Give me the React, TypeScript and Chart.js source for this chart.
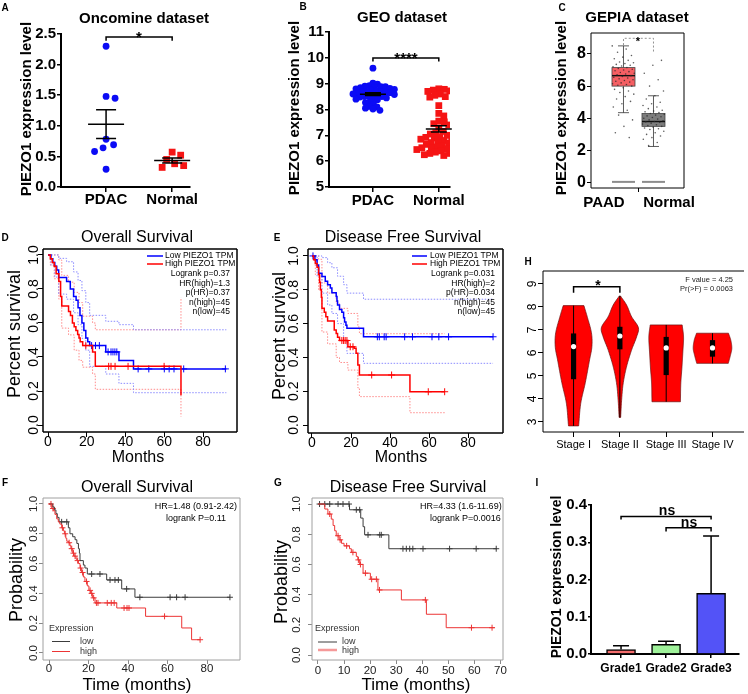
import React, { useEffect, useRef } from 'react';
import { Chart, registerables } from 'chart.js';

Chart.register(...registerables);

const FF = '"Liberation Sans", Arial, Helvetica, sans-serif';
Chart.defaults.font.family = FF;
Chart.defaults.color = '#000';

/* ===================== DATA ===================== */
// A – Oncomine
const A_CATS = ['PDAC', 'Normal'];
const A_PDAC = [2.3, 1.48, 1.45, 0.78, 0.69, 0.64, 0.58, 0.29];
const A_NORMAL = [0.57, 0.52, 0.45, 0.38, 0.35, 0.32];
const A_YTICKS = [0, 0.5, 1.0, 1.5, 2.0, 2.5];

// B – GEO
const B_CATS = ['PDAC', 'Normal'];
const B_PDAC = [9.6, 9.02, 8.98, 8.92, 8.9, 8.88, 8.88, 8.86, 8.85, 8.82, 8.8, 8.78, 8.75, 8.72, 8.7, 8.7, 8.68, 8.66, 8.65, 8.62,
  8.6, 8.6, 8.58, 8.55, 8.52, 8.5, 8.5, 8.48, 8.45, 8.42, 8.4, 8.38, 8.3, 8.27, 8.2, 8.12, 8.1, 8.05, 8.02, 7.97];
const B_NORMAL = [8.8, 8.78, 8.75, 8.72, 8.7, 8.65, 8.6, 8.55, 8.5, 8.48, 8.15, 7.85, 7.75, 7.55, 7.52, 7.45, 7.4, 7.28, 7.15, 7.1,
  7.05, 7.0, 6.95, 6.92, 6.9, 6.88, 6.85, 6.85, 6.8, 6.75, 6.72, 6.7, 6.65, 6.6, 6.6, 6.55, 6.52, 6.5, 6.48, 6.45, 6.45, 6.4,
  6.35, 6.3, 6.3, 6.25, 6.22];
const B_YTICKS = [5, 6, 7, 8, 9, 10, 11];

// C – GEPIA
const C_CATS = ['PAAD', 'Normal'];
const C_Q1 = [6.0, 3.5];
const C_MED = [6.65, 3.8];
const C_Q3 = [7.15, 4.3];
const C_WLO = [4.35, 2.25];
const C_WHI = [8.5, 5.4];
const C_FLOOR = [0.05, 0.05];
const C_PAAD_PTS = [8.5, 8.3, 8.1, 7.9, 7.8, 7.7, 7.6, 7.5, 7.45, 7.4, 7.35, 7.3, 7.25, 7.2, 7.15, 7.1, 7.05, 7.0, 6.95, 6.9,
  6.85, 6.8, 6.75, 6.7, 6.65, 6.6, 6.55, 6.5, 6.45, 6.4, 6.35, 6.3, 6.25, 6.2, 6.15, 6.1, 6.05, 6.0, 5.9, 5.8,
  5.7, 5.6, 5.5, 5.35, 5.2, 5.05, 4.9, 4.7, 4.5, 4.2, 3.9, 3.5, 3.1, 2.8];
const C_NORMAL_PTS = [7.6, 7.3, 6.8, 6.4, 6.0, 5.7, 5.4, 5.2, 5.0, 4.9, 4.8, 4.7, 4.6, 4.5, 4.45, 4.4, 4.35, 4.3, 4.25, 4.2,
  4.15, 4.1, 4.05, 4.0, 3.95, 3.9, 3.85, 3.8, 3.78, 3.75, 3.7, 3.65, 3.6, 3.55, 3.5, 3.45, 3.4, 3.35, 3.3, 3.2,
  3.1, 3.0, 2.9, 2.8, 2.7, 2.5, 2.3];
const C_YTICKS = [0, 2, 4, 6, 8];

// D – Overall survival (GEPIA)
const D_XTICKS = [0, 20, 40, 60, 80];
const SURV_YTICKS = [0, 0.2, 0.4, 0.6, 0.8, 1.0];
const D_LOW_T = [0, 1.5, 2.5, 3.5, 4.5, 5.5, 9.6, 11.5, 13.2, 14.5, 15.5, 16.5, 17.5, 18.5, 19.5, 20.5, 21.5, 29.8, 36.6, 44.1, 92];
const D_LOW_S = [1, 0.978, 0.956, 0.933, 0.911, 0.867, 0.844, 0.80, 0.756, 0.733, 0.689, 0.644, 0.60, 0.556, 0.511, 0.489, 0.467, 0.43, 0.38, 0.33, 0.33];
const D_LOW_CENS = [22.5, 24.5, 26.5, 31, 32.5, 33.5, 34.5, 35.5, 46.5, 52, 60, 62.5, 65, 70, 91.5];
const D_HIGH_T = [0, 1.2, 2.2, 3.2, 4.2, 5.6, 6.5, 7.1, 10.6, 11.6, 12.6, 13.5, 14.4, 15.3, 16.0, 16.6, 17.9, 23.0, 24.4, 68.6];
const D_HIGH_S = [1, 0.978, 0.956, 0.933, 0.889, 0.844, 0.756, 0.70, 0.667, 0.644, 0.60, 0.578, 0.556, 0.533, 0.511, 0.489, 0.467, 0.43, 0.345, 0.175];
const D_HIGH_CENS = [19.5, 31.3, 32.5, 34.6, 41.3, 59.9];
const D_LOW_CI_T = [0, 1.5, 3.5, 5.5, 9.6, 13.2, 15.5, 17.5, 19.5, 21.5, 29.8, 36.6, 44.1, 92];
const D_LOW_UP = [1, 1, 1, 0.98, 0.96, 0.90, 0.85, 0.79, 0.72, 0.645, 0.61, 0.59, 0.56, 0.56];
const D_LOW_LO = [1, 0.94, 0.87, 0.77, 0.74, 0.66, 0.59, 0.51, 0.44, 0.345, 0.30, 0.245, 0.19, 0.19];
const D_HIGH_CI_T = [0, 1.2, 3.2, 5.6, 7.1, 10.6, 13.5, 16.0, 17.9, 23.0, 24.4, 68.6];
const D_HIGH_UP = [1, 1, 1, 0.97, 0.88, 0.84, 0.78, 0.72, 0.64, 0.60, 0.56, 0.75];
const D_HIGH_LO = [1, 0.94, 0.86, 0.74, 0.57, 0.53, 0.44, 0.38, 0.34, 0.30, 0.21, 0.05];

// E – Disease free survival (GEPIA)
const E_LOW_T = [0, 1.5, 2.6, 3.4, 5.1, 6.8, 8.0, 9.4, 10.2, 12.4, 12.8, 13.1, 14.1, 15.3, 16.2, 16.7, 17.4, 17.9, 26.4, 92.8];
const E_LOW_S = [1, 0.978, 0.947, 0.897, 0.878, 0.85, 0.83, 0.81, 0.783, 0.76, 0.733, 0.71, 0.684, 0.667, 0.635, 0.61, 0.59, 0.572, 0.522, 0.522];
const E_LOW_CENS = [0.5, 33.5, 34.5, 37, 38, 47.5, 51.5, 61.5, 65, 70, 92.8];
const E_HIGH_T = [0, 0.85, 1.7, 2.6, 3.4, 3.9, 4.3, 4.8, 5.1, 6.3, 7.1, 8.0, 11.4, 12.4, 13.1, 14.1, 18.4, 21.6, 22.6, 23.5, 24.3, 50.2, 68];
const E_HIGH_S = [1, 0.978, 0.956, 0.933, 0.889, 0.844, 0.80, 0.756, 0.69, 0.667, 0.64, 0.615, 0.562, 0.542, 0.519, 0.50, 0.463, 0.454, 0.424, 0.355, 0.296, 0.197, 0.197];
const E_HIGH_CENS = [15.3, 16.2, 17.0, 17.9, 19.6, 21.0, 30.6, 40.8, 59.6, 68];
const E_LOW_CI_T = [0, 2.6, 5.1, 8.0, 10.2, 13.1, 16.2, 17.9, 26.4, 92.8];
const E_LOW_UP = [1, 1, 0.99, 0.96, 0.93, 0.88, 0.83, 0.78, 0.744, 0.744];
const E_LOW_LO = [1, 0.88, 0.78, 0.71, 0.66, 0.60, 0.50, 0.424, 0.365, 0.365];
const E_HIGH_CI_T = [0, 1.7, 3.4, 5.1, 8.0, 12.4, 14.1, 18.4, 23.5, 24.3, 50.2, 68];
const E_HIGH_UP = [1, 1, 0.98, 0.84, 0.78, 0.72, 0.69, 0.66, 0.58, 0.54, 0.54, 0.54];
const E_HIGH_LO = [1, 0.89, 0.80, 0.55, 0.48, 0.40, 0.37, 0.325, 0.22, 0.168, 0.073, 0.073];

// F – Overall survival (KM plotter)
const F_XTICKS = [0, 20, 40, 60, 80];
const F_LOW_T = [0, 1.9, 2.7, 3.5, 4.2, 5.1, 9.8, 10.6, 12.0, 13.2, 14.1, 14.9, 15.4, 15.7, 17.4, 18.2, 19.4, 29.2, 36.8, 43.5, 91.6];
const F_LOW_S = [1, 0.98, 0.96, 0.935, 0.91, 0.88, 0.84, 0.80, 0.78, 0.76, 0.735, 0.70, 0.67, 0.62, 0.59, 0.57, 0.53, 0.49, 0.43, 0.374, 0.374];
const F_LOW_CENS = [6.4, 9.0, 21.6, 25.8, 30.9, 33.4, 35.1, 39.3, 46.0, 61.3, 64.6, 68.9, 91.6];
const F_HIGH_T = [0, 1.4, 2.2, 3.0, 3.9, 4.7, 5.5, 6.4, 7.3, 7.8, 8.5, 9.0, 9.9, 10.6, 11.1, 12.0, 12.7, 13.7, 14.2, 14.9,
  15.7, 16.4, 17.4, 18.2, 19.4, 20.2, 21.1, 22.1, 23.3, 34.3, 48.9, 67.2, 72.2, 76.5];
const F_HIGH_S = [1, 0.97, 0.955, 0.93, 0.90, 0.88, 0.865, 0.84, 0.82, 0.80, 0.77, 0.75, 0.74, 0.72, 0.70, 0.67, 0.65, 0.63, 0.62, 0.60,
  0.57, 0.54, 0.51, 0.48, 0.45, 0.42, 0.40, 0.37, 0.336, 0.302, 0.246, 0.168, 0.089, 0.089];
const F_HIGH_CENS = [1.0, 2.0, 6.8, 8.2, 10.2, 11.5, 12.4, 13.2, 14.5, 16.0, 17.0, 19.0, 20.8, 21.6, 22.6, 24.0, 24.8, 29.5, 31.5, 33.0,
  38.0, 39.5, 40.5, 58.5, 76.5];

// G – Disease free survival (KM plotter)
const G_XTICKS = [0, 10, 20, 30, 40, 50, 60, 70];
const G_LOW_T = [0, 12.1, 16.4, 17.3, 17.9, 27.2, 68.7];
const G_LOW_S = [1, 0.962, 0.907, 0.85, 0.796, 0.704, 0.704];
const G_LOW_CENS = [0.6, 2.6, 4.5, 7.7, 9.6, 11.9, 14.7, 16.0, 19.2, 23.7, 24.3, 32.6, 33.9, 35.2, 36.4, 40.3, 50.5, 60.7, 68.4];
const G_HIGH_T = [0, 2.6, 3.8, 5.1, 5.8, 6.4, 7.0, 8.1, 9.0, 10.0, 12.1, 12.8, 14.7, 15.3, 16.0, 17.3, 20.1, 23.0, 32.0, 41.6, 49.2, 67.8];
const G_HIGH_S = [1, 0.967, 0.934, 0.90, 0.858, 0.823, 0.79, 0.763, 0.74, 0.723, 0.704, 0.68, 0.653, 0.63, 0.60, 0.542, 0.502, 0.431, 0.365, 0.27, 0.181, 0.181];
const G_HIGH_CENS = [4.5, 7.7, 8.5, 11.0, 13.4, 15.5, 16.3, 18.2, 20.6, 22.4, 23.6, 41.2, 58.9, 66.8];

// H – Violin by stage
const H_STAGES = ['Stage I', 'Stage II', 'Stage III', 'Stage IV'];
const H_YTICKS = [3, 4, 5, 6, 7, 8, 9];
const H_MEDIAN = [6.28, 6.74, 6.22, 6.22];
const H_Q1 = [4.86, 6.16, 5.04, 5.84];
const H_Q3 = [6.85, 7.14, 6.70, 6.56];
const H_MIN = [2.83, 3.2, 3.88, 5.55];
const H_MAX = [8.06, 8.48, 7.22, 6.86];
const H_DENS_Y = [
  [2.83, 3.82, 4.7, 5.7, 6.27, 6.86, 7.58, 8.06],
  [3.2, 3.96, 4.68, 5.4, 6.13, 6.71, 7.1, 7.58, 8.09, 8.48],
  [3.88, 4.68, 5.4, 6.13, 6.71, 7.22],
  [5.55, 5.9, 6.2, 6.55, 6.86],
];
const H_DENS = [
  [0.26, 0.37, 0.60, 0.82, 0.94, 0.92, 0.70, 0.53],
  [0.04, 0.09, 0.17, 0.34, 0.60, 0.86, 0.95, 0.60, 0.34, 0.03],
  [0.73, 0.75, 0.81, 0.86, 0.89, 0.82],
  [0.81, 0.92, 0.99, 0.94, 0.82],
];

// I – Grade
const I_CATS = ['Grade1', 'Grade2', 'Grade3'];
const I_MEANS = [0.012, 0.026, 0.163];
const I_SD = [0.010, 0.008, 0.154];
const I_YTICKS = [0, 0.1, 0.2, 0.3, 0.4];

/* ===================== STYLE ===================== */
const I_COLORS = ['#f46d6d', '#9ff29a', '#5353f7'];
const C_FILL = ['rgba(244,78,82,0.9)', 'rgba(118,118,118,0.95)'];

/* ===================== HELPERS ===================== */
type Box = { x: number; y: number; w: number; h: number };
type Area = { l: number; t: number; r: number; b: number };
type Item = {
  t?: string; x?: number; y?: number; f?: string; a?: CanvasTextAlign; b?: CanvasTextBaseline; c?: string; r?: number;
  line?: number[]; w?: number; dash?: number[];
};

function baseOptions(box: Box, area: Area, scales: any) {
  return {
    responsive: false, maintainAspectRatio: false, animation: false, devicePixelRatio: 1, events: [],
    layout: { padding: { left: 0, top: area.t - box.y, right: box.x + box.w - area.r, bottom: 0 } },
    plugins: { legend: { display: false }, tooltip: { enabled: false }, title: { display: false } },
    scales,
  };
}

function axis(o: any) {
  return {
    type: 'linear', min: o.min, max: o.max, offset: false,
    afterBuildTicks: (s: any) => { s.ticks = o.ticks.map((v: number) => ({ value: v })); },
    afterFit: (s: any) => { if (s.isHorizontal()) s.height = o.size; else s.width = o.size; },
    ticks: {
      display: o.show !== false, callback: o.labels || ((v: number) => String(v)), font: o.font || { size: 12 },
      color: o.color || '#000', padding: o.pad ?? 2, autoSkip: false, maxRotation: 0, minRotation: 0,
    },
    grid: { display: true, drawOnChartArea: false, drawTicks: true, tickLength: o.tick ?? 5, color: o.gridColor || '#000', lineWidth: o.lw ?? 1, offset: false },
    border: { display: !!o.border, color: '#000', width: o.border || 1 },
  };
}
const xSize = (box: Box, area: Area) => box.y + box.h - area.b;
const ySize = (box: Box, area: Area) => area.l - box.x;

function itemsPlugin(id: string, box: Box, items: Item[]) {
  return {
    id,
    afterDraw(chart: any) {
      const ctx = chart.ctx;
      items.forEach((it) => {
        ctx.save();
        if (it.line) {
          const [x1, y1, x2, y2] = it.line;
          ctx.strokeStyle = it.c || '#000';
          ctx.lineWidth = it.w || 1;
          ctx.setLineDash(it.dash || []);
          ctx.beginPath();
          ctx.moveTo(x1 - box.x, y1 - box.y);
          ctx.lineTo(x2 - box.x, y2 - box.y);
          ctx.stroke();
        } else if (it.t !== undefined) {
          ctx.translate((it.x as number) - box.x, (it.y as number) - box.y);
          if (it.r) ctx.rotate((it.r * Math.PI) / 180);
          ctx.font = `${it.f} ${FF}`;
          ctx.fillStyle = it.c || '#000';
          ctx.textAlign = it.a || 'center';
          ctx.textBaseline = it.b || 'middle';
          ctx.fillText(it.t, 0, 0);
        }
        ctx.restore();
      });
    },
  };
}

function framePlugin(color: string, lw: number, sides = 'ltrb') {
  return {
    id: 'frame',
    afterDatasetsDraw(chart: any) {
      const { ctx, chartArea: a } = chart;
      ctx.save();
      ctx.strokeStyle = color;
      ctx.lineWidth = lw;
      ctx.beginPath();
      if (sides.includes('l')) { ctx.moveTo(a.left, a.top); ctx.lineTo(a.left, a.bottom); }
      if (sides.includes('t')) { ctx.moveTo(a.left, a.top); ctx.lineTo(a.right, a.top); }
      if (sides.includes('r')) { ctx.moveTo(a.right, a.top); ctx.lineTo(a.right, a.bottom); }
      if (sides.includes('b')) { ctx.moveTo(a.left, a.bottom); ctx.lineTo(a.right, a.bottom); }
      ctx.stroke();
      ctx.restore();
    },
  };
}

function rotLabels(box: Box, xPage: number, vals: number[], font: string, color: string, fmt: (v: number) => string) {
  return {
    id: 'rotlab',
    afterDraw(chart: any) {
      const { ctx } = chart;
      const y = chart.scales.y;
      ctx.save();
      ctx.font = `${font} ${FF}`;
      ctx.fillStyle = color;
      ctx.textAlign = 'center';
      ctx.textBaseline = 'middle';
      vals.forEach((v) => {
        ctx.save();
        ctx.translate(xPage - box.x, y.getPixelForValue(v));
        ctx.rotate(-Math.PI / 2);
        ctx.fillText(fmt(v), 0, 0);
        ctx.restore();
      });
      ctx.restore();
    },
  };
}

type Br = { x1: number; x2: number; y: number; l1: number; l2: number };
function bracketPlugin(list: Br[], color: string, lw: number, dash: number[] = []) {
  return {
    id: 'brackets',
    afterDatasetsDraw(chart: any) {
      const { ctx, scales: { x, y } } = chart;
      ctx.save();
      ctx.strokeStyle = color;
      ctx.lineWidth = lw;
      ctx.setLineDash(dash);
      list.forEach((b) => {
        ctx.beginPath();
        ctx.moveTo(x.getPixelForValue(b.x1), y.getPixelForValue(b.l1));
        ctx.lineTo(x.getPixelForValue(b.x1), y.getPixelForValue(b.y));
        ctx.lineTo(x.getPixelForValue(b.x2), y.getPixelForValue(b.y));
        ctx.lineTo(x.getPixelForValue(b.x2), y.getPixelForValue(b.l2));
        ctx.stroke();
      });
      ctx.restore();
    },
  };
}

function swarm(vals: number[], pxY: number, pxX: number, d: number): number[] {
  const placed: { x: number; y: number }[] = [];
  return vals.map((v) => {
    const yy = v * pxY;
    let best = 0;
    for (let k = 0; k < 400; k++) {
      const cand = k === 0 ? 0 : (k % 2 ? 1 : -1) * Math.ceil(k / 2) * 0.5;
      if (placed.every((p) => (p.x - cand) ** 2 + (p.y - yy) ** 2 >= d * d)) { best = cand; break; }
    }
    placed.push({ x: best, y: yy });
    return best / pxX;
  });
}

function stats(g: number[]) {
  const n = g.length;
  const m = g.reduce((a, b) => a + b, 0) / n;
  const sd = Math.sqrt(g.reduce((a, b) => a + (b - m) ** 2, 0) / (n - 1));
  return { m, se: sd / Math.sqrt(n) };
}

function meanSemPlugin(groups: number[][], halfMean: number, halfCap: number, lw: number) {
  return {
    id: 'meansem',
    afterDatasetsDraw(chart: any) {
      const { ctx, scales: { x, y } } = chart;
      ctx.save();
      ctx.strokeStyle = '#000';
      ctx.lineWidth = lw;
      groups.forEach((g, i) => {
        const { m, se } = stats(g);
        const cx = x.getPixelForValue(i + 1);
        const ym = y.getPixelForValue(m), yt = y.getPixelForValue(m + se), yb = y.getPixelForValue(m - se);
        ctx.beginPath();
        ctx.moveTo(cx - halfMean, ym); ctx.lineTo(cx + halfMean, ym);
        ctx.moveTo(cx, yt); ctx.lineTo(cx, yb);
        ctx.moveTo(cx - halfCap, yt); ctx.lineTo(cx + halfCap, yt);
        ctx.moveTo(cx - halfCap, yb); ctx.lineTo(cx + halfCap, yb);
        ctx.stroke();
      });
      ctx.restore();
    },
  };
}

function stepAt(T: number[], S: number[], t: number) {
  let s = S[0];
  for (let i = 0; i < T.length; i++) if (T[i] <= t) s = S[i];
  return s;
}

function interp(ys: number[], ws: number[], y: number) {
  let k = 0;
  while (k < ys.length - 2 && y > ys[k + 1]) k++;
  const y0 = ys[k], y1 = ys[k + 1];
  const t = Math.min(1, Math.max(0, (y - y0) / (y1 - y0)));
  const w0 = ws[k], w1 = ws[k + 1];
  const m0 = k > 0 ? ((ws[k + 1] - ws[k - 1]) / (ys[k + 1] - ys[k - 1])) * (y1 - y0) : w1 - w0;
  const m1 = k + 2 < ys.length ? ((ws[k + 2] - ws[k]) / (ys[k + 2] - ys[k])) * (y1 - y0) : w1 - w0;
  const t2 = t * t, t3 = t2 * t;
  return (2 * t3 - 3 * t2 + 1) * w0 + (t3 - 2 * t2 + t) * m0 + (-2 * t3 + 3 * t2) * w1 + (t3 - t2) * m1;
}

/* ===================== PANELS ===================== */
const boxA: Box = { x: 0, y: 0, w: 250, h: 228 };
const areaA: Area = { l: 61, t: 34, r: 190, b: 187 };
function makeA() {
  const offP = swarm(A_PDAC, 61.2, 66, 9);
  const offN = swarm(A_NORMAL, 61.2, 66, 9);
  return {
    type: 'scatter',
    data: {
      datasets: [
        { data: A_PDAC.map((v, i) => ({ x: 1 + offP[i], y: v })), pointStyle: 'circle', pointRadius: 3.4, backgroundColor: '#0b0bf5', borderWidth: 0 },
        { data: A_NORMAL.map((v, i) => ({ x: 2 + offN[i], y: v })), pointStyle: 'rect', pointRadius: 4.8, backgroundColor: '#f51414', borderWidth: 0 },
      ],
    },
    options: baseOptions(boxA, areaA, {
      x: axis({ size: xSize(boxA, areaA), min: 0.318, max: 2.27, ticks: [1, 2], labels: (v: number) => A_CATS[Math.round(v) - 1], font: { size: 15, weight: 'bold' }, tick: 5, pad: -1, lw: 1.5, border: 2 }),
      y: axis({ size: ySize(boxA, areaA), min: 0, max: 2.5, ticks: A_YTICKS, labels: (v: number) => v.toFixed(1), font: { size: 15, weight: 'bold' }, tick: 4, pad: 1, lw: 1.5, border: 2 }),
    }),
    plugins: [
      meanSemPlugin([A_PDAC, A_NORMAL], 18, 10, 1.5),
      bracketPlugin([{ x1: 1, x2: 2, y: 2.45, l1: 2.39, l2: 2.39 }], '#000', 1.5),
      itemsPlugin('txtA', boxA, [
        { t: 'Oncomine dataset', x: 144, y: 19, f: 'bold 15px' },
        { t: 'PIEZO1 expression level', x: 26.5, y: 109, f: 'bold 15px', r: -90 },
        { t: '*', x: 139, y: 42, f: 'bold 15px', b: 'alphabetic' },
      ]),
    ],
  };
}

const boxB: Box = { x: 250, y: 0, w: 250, h: 228 };
const areaB: Area = { l: 329, t: 32, r: 450, b: 187 };
function makeB() {
  const offP = swarm(B_PDAC, 25.8, 66, 4.3);
  const offN = swarm(B_NORMAL, 25.8, 66, 5.3);
  return {
    type: 'scatter',
    data: {
      datasets: [
        { data: B_PDAC.map((v, i) => ({ x: 1 + offP[i], y: v })), pointStyle: 'circle', pointRadius: 3.4, backgroundColor: '#0b0bf5', borderWidth: 0 },
        { data: B_NORMAL.map((v, i) => ({ x: 2 + offN[i], y: v })), pointStyle: 'rect', pointRadius: 4.8, backgroundColor: '#f51414', borderWidth: 0 },
      ],
    },
    options: baseOptions(boxB, areaB, {
      x: axis({ size: xSize(boxB, areaB), min: 0.333, max: 2.17, ticks: [1, 2], labels: (v: number) => B_CATS[Math.round(v) - 1], font: { size: 15, weight: 'bold' }, tick: 5, pad: 0, lw: 1.5, border: 2 }),
      y: axis({ size: ySize(boxB, areaB), min: 5, max: 11, ticks: B_YTICKS, font: { size: 15, weight: 'bold' }, tick: 4, pad: 1, lw: 1.5, border: 2 }),
    }),
    plugins: [
      meanSemPlugin([B_PDAC, B_NORMAL], 13, 8, 1.5),
      bracketPlugin([{ x1: 1, x2: 2, y: 9.99, l1: 9.86, l2: 9.86 }], '#000', 1.5),
      itemsPlugin('txtB', boxB, [
        { t: 'GEO dataset', x: 402, y: 18, f: 'bold 15px' },
        { t: 'PIEZO1 expression level', x: 295, y: 108, f: 'bold 15px', r: -90 },
        { t: '****', x: 406, y: 62.5, f: 'bold 15px', b: 'alphabetic' },
      ]),
    ],
  };
}

const boxC: Box = { x: 500, y: 0, w: 248, h: 228 };
const areaC: Area = { l: 591, t: 33, r: 684, b: 188 };
const boxPlotPlugin = {
  id: 'boxes',
  beforeDatasetsDraw(chart: any) {
    const { ctx, scales: { x, y } } = chart;
    const bw = 23, cw = 11;
    C_CATS.forEach((_, i) => {
      const cx = x.getPixelForValue(i + 1);
      const P = (v: number) => y.getPixelForValue(v);
      ctx.save();
      ctx.strokeStyle = '#8c8c8c'; ctx.lineWidth = 2;
      ctx.beginPath(); ctx.moveTo(cx - bw / 2, P(C_FLOOR[i])); ctx.lineTo(cx + bw / 2, P(C_FLOOR[i])); ctx.stroke();
      ctx.strokeStyle = '#333'; ctx.lineWidth = 0.8;
      ctx.beginPath();
      ctx.moveTo(cx, P(C_WHI[i])); ctx.lineTo(cx, P(C_Q3[i]));
      ctx.moveTo(cx, P(C_Q1[i])); ctx.lineTo(cx, P(C_WLO[i]));
      ctx.moveTo(cx - cw / 2, P(C_WHI[i])); ctx.lineTo(cx + cw / 2, P(C_WHI[i]));
      ctx.moveTo(cx - cw / 2, P(C_WLO[i])); ctx.lineTo(cx + cw / 2, P(C_WLO[i]));
      ctx.stroke();
      ctx.fillStyle = C_FILL[i];
      ctx.fillRect(cx - bw / 2, P(C_Q3[i]), bw, P(C_Q1[i]) - P(C_Q3[i]));
      ctx.strokeStyle = '#444'; ctx.lineWidth = 0.8;
      ctx.strokeRect(cx - bw / 2, P(C_Q3[i]), bw, P(C_Q1[i]) - P(C_Q3[i]));
      ctx.strokeStyle = '#111'; ctx.lineWidth = 1.4;
      ctx.beginPath(); ctx.moveTo(cx - bw / 2, P(C_MED[i])); ctx.lineTo(cx + bw / 2, P(C_MED[i])); ctx.stroke();
      ctx.restore();
    });
  },
};
function makeC() {
  const jit = (i: number) => (((i * 0.618034) % 1) - 0.5) * 0.75;
  return {
    type: 'scatter',
    data: {
      datasets: [
        { data: C_PAAD_PTS.map((v, i) => ({ x: 1 + jit(i), y: v })), pointRadius: 0.8, backgroundColor: 'rgba(40,40,40,0.75)', borderWidth: 0 },
        { data: C_NORMAL_PTS.map((v, i) => ({ x: 2 + jit(i + 3), y: v })), pointRadius: 0.8, backgroundColor: 'rgba(40,40,40,0.75)', borderWidth: 0 },
      ],
    },
    options: baseOptions(boxC, areaC, {
      x: axis({ size: xSize(boxC, areaC), min: -0.083, max: 3.017, ticks: [1.5], show: false, tick: 4 }),
      y: axis({ size: ySize(boxC, areaC), min: -0.33, max: 9.3, ticks: C_YTICKS, font: { size: 16, weight: 'bold' }, tick: 4, pad: 1 }),
    }),
    plugins: [
      boxPlotPlugin,
      framePlugin('#000', 1),
      bracketPlugin([{ x1: 1, x2: 2, y: 8.97, l1: 8.55, l2: 8.05 }], '#777', 0.8, [2, 2]),
      itemsPlugin('txtC', boxC, [
        { t: 'GEPIA dataset', x: 637, y: 18, f: 'bold 15px' },
        { t: 'PIEZO1 expression level', x: 562, y: 108, f: 'bold 15px', r: -90 },
        { t: 'PAAD', x: 604, y: 203, f: 'bold 15px' },
        { t: 'Normal', x: 669, y: 203, f: 'bold 15px' },
        { t: '*', x: 638, y: 45, f: 'bold 11px', b: 'alphabetic' },
      ]),
    ],
  };
}

function kmLine(T: number[], S: number[], color: string, width: number, dash: number[] = []) {
  return {
    type: 'line', data: T.map((t, i) => ({ x: t, y: S[i] })), borderColor: color, borderWidth: width,
    borderDash: dash, stepped: true, pointRadius: 0, fill: false, tension: 0,
  };
}
function kmCens(times: number[], T: number[], S: number[], color: string, r: number) {
  return {
    type: 'line', showLine: false, data: times.map((t) => ({ x: t, y: stepAt(T, S, t) })),
    pointStyle: 'cross', pointRadius: r, borderColor: color, pointBorderColor: color, borderWidth: 1, pointBorderWidth: 1,
  };
}

const boxD: Box = { x: 0, y: 228, w: 250, h: 250 };
const areaD: Area = { l: 43, t: 249, r: 237, b: 432 };
const BLUE = '#0000ff', RED = '#ff0000', LBLUE = '#8c8cff', LRED = '#ff8c8c';
function makeD() {
  return {
    type: 'line',
    data: {
      datasets: [
        kmLine(D_HIGH_T, D_HIGH_S, RED, 1.5),
        kmLine(D_LOW_T, D_LOW_S, BLUE, 1.5),
        kmCens(D_HIGH_CENS, D_HIGH_T, D_HIGH_S, RED, 3.5),
        kmCens(D_LOW_CENS, D_LOW_T, D_LOW_S, BLUE, 3.5),
        kmLine(D_LOW_CI_T, D_LOW_UP, LBLUE, 1, [1.5, 1.5]),
        kmLine(D_LOW_CI_T, D_LOW_LO, LBLUE, 1, [1.5, 1.5]),
        kmLine(D_HIGH_CI_T, D_HIGH_UP, LRED, 1, [1.5, 1.5]),
        kmLine(D_HIGH_CI_T, D_HIGH_LO, LRED, 1, [1.5, 1.5]),
      ],
    },
    options: baseOptions(boxD, areaD, {
      x: axis({ size: xSize(boxD, areaD), min: -2.58, max: 97.5, ticks: D_XTICKS, font: { size: 14 }, tick: 5, pad: -3 }),
      y: axis({ size: ySize(boxD, areaD), min: -0.041, max: 1.035, ticks: SURV_YTICKS, show: false, tick: 5 }),
    }),
    plugins: [
      framePlugin('#000', 1.5),
      rotLabels(boxD, 34, SURV_YTICKS, '14px', '#000', (v) => v.toFixed(1)),
      itemsPlugin('txtD', boxD, [
        { t: 'Overall Survival', x: 137, y: 238, f: '16px' },
        { t: 'Percent survival', x: 15, y: 334, f: '18px', r: -90 },
        { t: 'Months', x: 138, y: 458, f: '16px' },
        { line: [147, 256, 163, 256], c: BLUE, w: 1.5 },
        { line: [147, 264, 163, 264], c: RED, w: 1.5 },
        { t: 'Low PIEZO1 TPM', x: 165, y: 256, f: '8.5px', a: 'left' },
        { t: 'High PIEZO1 TPM', x: 165, y: 264, f: '8.5px', a: 'left' },
        { t: 'Logrank p=0.37', x: 230, y: 274, f: '8.5px', a: 'right' },
        { t: 'HR(high)=1.3', x: 230, y: 283.5, f: '8.5px', a: 'right' },
        { t: 'p(HR)=0.37', x: 230, y: 293, f: '8.5px', a: 'right' },
        { t: 'n(high)=45', x: 230, y: 302.5, f: '8.5px', a: 'right' },
        { t: 'n(low)=45', x: 230, y: 312, f: '8.5px', a: 'right' },
      ]),
    ],
  };
}

const boxE: Box = { x: 250, y: 228, w: 258, h: 250 };
const areaE: Area = { l: 308, t: 249, r: 503, b: 433 };
function makeE() {
  return {
    type: 'line',
    data: {
      datasets: [
        kmLine(E_HIGH_T, E_HIGH_S, RED, 1.5),
        kmLine(E_LOW_T, E_LOW_S, BLUE, 1.5),
        kmCens(E_HIGH_CENS, E_HIGH_T, E_HIGH_S, RED, 3.5),
        kmCens(E_LOW_CENS, E_LOW_T, E_LOW_S, BLUE, 3.5),
        kmLine(E_LOW_CI_T, E_LOW_UP, LBLUE, 1, [1.5, 1.5]),
        kmLine(E_LOW_CI_T, E_LOW_LO, LBLUE, 1, [1.5, 1.5]),
        kmLine(E_HIGH_CI_T, E_HIGH_UP, LRED, 1, [1.5, 1.5]),
        kmLine(E_HIGH_CI_T, E_HIGH_LO, LRED, 1, [1.5, 1.5]),
      ],
    },
    options: baseOptions(boxE, areaE, {
      x: axis({ size: xSize(boxE, areaE), min: -2.05, max: 97.9, ticks: D_XTICKS, font: { size: 14 }, tick: 5, pad: -3 }),
      y: axis({ size: ySize(boxE, areaE), min: -0.047, max: 1.041, ticks: SURV_YTICKS, show: false, tick: 5 }),
    }),
    plugins: [
      framePlugin('#000', 1.5),
      rotLabels(boxE, 294, SURV_YTICKS, '14px', '#000', (v) => v.toFixed(1)),
      itemsPlugin('txtE', boxE, [
        { t: 'Disease Free Survival', x: 403, y: 238, f: '16px' },
        { t: 'Percent survival', x: 280, y: 336, f: '18px', r: -90 },
        { t: 'Months', x: 401, y: 458, f: '16px' },
        { line: [412, 256, 427, 256], c: BLUE, w: 1.5 },
        { line: [412, 264, 427, 264], c: RED, w: 1.5 },
        { t: 'Low PIEZO1 TPM', x: 430, y: 256, f: '8.5px', a: 'left' },
        { t: 'High PIEZO1 TPM', x: 430, y: 264, f: '8.5px', a: 'left' },
        { t: 'Logrank p=0.031', x: 495, y: 274, f: '8.5px', a: 'right' },
        { t: 'HR(high)=2', x: 495, y: 283.5, f: '8.5px', a: 'right' },
        { t: 'p(HR)=0.034', x: 495, y: 293, f: '8.5px', a: 'right' },
        { t: 'n(high)=45', x: 495, y: 302.5, f: '8.5px', a: 'right' },
        { t: 'n(low)=45', x: 495, y: 312, f: '8.5px', a: 'right' },
      ]),
    ],
  };
}

const BLK = '#3c3c3c', KRED = '#ec3434';
const boxF: Box = { x: 0, y: 476, w: 250, h: 218 };
const areaF: Area = { l: 43, t: 498, r: 240, b: 660 };
function makeF() {
  return {
    type: 'line',
    data: {
      datasets: [
        kmLine(F_HIGH_T, F_HIGH_S, KRED, 1),
        kmLine(F_LOW_T, F_LOW_S, BLK, 1),
        kmCens(F_HIGH_CENS, F_HIGH_T, F_HIGH_S, KRED, 3),
        kmCens(F_LOW_CENS, F_LOW_T, F_LOW_S, BLK, 3),
      ],
    },
    options: baseOptions(boxF, areaF, {
      x: axis({ size: xSize(boxF, areaF), min: -3.04, max: 96.7, ticks: F_XTICKS, font: { size: 11.5 }, color: '#222', tick: 4, pad: -1.6, gridColor: '#888' }),
      y: axis({ size: ySize(boxF, areaF), min: -0.047, max: 1.04, ticks: SURV_YTICKS, show: false, tick: 4, gridColor: '#888' }),
    }),
    plugins: [
      framePlugin('#a0a0a0', 1),
      rotLabels(boxF, 33.5, SURV_YTICKS, '11.5px', '#222', (v) => v.toFixed(1)),
      itemsPlugin('txtF', boxF, [
        { t: 'Overall Survival', x: 137, y: 488, f: '16px' },
        { t: 'Probability', x: 17, y: 580, f: '18px', r: -90 },
        { t: 'Time (months)', x: 137, y: 685, f: '17px' },
        { t: 'HR=1.48 (0.91-2.42)', x: 237, y: 507, f: '9px', a: 'right' },
        { t: 'logrank P=0.11', x: 196, y: 519, f: '9px' },
        { t: 'Expression', x: 49, y: 629, f: '9px', a: 'left', c: '#333' },
        { line: [52, 641.5, 70, 641.5], c: BLK, w: 1 },
        { line: [52, 651.5, 70, 651.5], c: KRED, w: 1 },
        { t: 'low', x: 80, y: 642, f: '9px', a: 'left', c: '#333' },
        { t: 'high', x: 80, y: 652, f: '9px', a: 'left', c: '#333' },
      ]),
    ],
  };
}

const boxG: Box = { x: 250, y: 476, w: 258, h: 218 };
const areaG: Area = { l: 312, t: 498, r: 503, b: 660 };
function makeG() {
  return {
    type: 'line',
    data: {
      datasets: [
        kmLine(G_HIGH_T, G_HIGH_S, KRED, 1),
        kmLine(G_LOW_T, G_LOW_S, BLK, 1),
        kmCens(G_HIGH_CENS, G_HIGH_T, G_HIGH_S, KRED, 3),
        kmCens(G_LOW_CENS, G_LOW_T, G_LOW_S, BLK, 3),
      ],
    },
    options: baseOptions(boxG, areaG, {
      x: axis({ size: xSize(boxG, areaG), min: -2.3, max: 71, ticks: G_XTICKS, font: { size: 11.5 }, color: '#222', tick: 4, pad: 0, gridColor: '#888' }),
      y: axis({ size: ySize(boxG, areaG), min: -0.033, max: 1.04, ticks: SURV_YTICKS, show: false, tick: 4, gridColor: '#888' }),
    }),
    plugins: [
      framePlugin('#a0a0a0', 1),
      rotLabels(boxG, 296.5, SURV_YTICKS, '11.5px', '#222', (v) => v.toFixed(1)),
      itemsPlugin('txtG', boxG, [
        { t: 'Disease Free Survival', x: 408, y: 488, f: '16px' },
        { t: 'Probability', x: 282, y: 582, f: '18px', r: -90 },
        { t: 'Time (months)', x: 416, y: 685, f: '17px' },
        { t: 'HR=4.33 (1.6-11.69)', x: 420, y: 507, f: '9px', a: 'left' },
        { t: 'logrank P=0.0016', x: 430, y: 519, f: '9px', a: 'left' },
        { t: 'Expression', x: 315, y: 629, f: '9px', a: 'left', c: '#333' },
        { line: [318, 642, 337, 642], c: BLK, w: 1 },
        { line: [318, 650, 337, 650], c: 'rgba(236,52,52,0.5)', w: 2.5 },
        { t: 'low', x: 342, y: 642, f: '9px', a: 'left', c: '#333' },
        { t: 'high', x: 342, y: 651, f: '9px', a: 'left', c: '#333' },
      ]),
    ],
  };
}

const boxH: Box = { x: 508, y: 228, w: 240, h: 250 };
const areaH: Area = { l: 543, t: 271, r: 747, b: 432 };
const violinPlugin = {
  id: 'violins',
  beforeDatasetsDraw(chart: any) {
    const { ctx, scales: { x, y } } = chart;
    const maxHalf = 19.5;
    H_STAGES.forEach((_, i) => {
      const cx = x.getPixelForValue(i + 1);
      const ys = H_DENS_Y[i], ws = H_DENS[i];
      const lo = ys[0], hi = ys[ys.length - 1];
      const n = 80;
      const pts: number[][] = [];
      for (let k = 0; k <= n; k++) {
        const v = lo + ((hi - lo) * k) / n;
        pts.push([v, Math.max(0.01, interp(ys, ws, v))]);
      }
      ctx.save();
      ctx.beginPath();
      pts.forEach(([v, w], k) => {
        const px = cx - w * maxHalf, py = y.getPixelForValue(v);
        if (k) ctx.lineTo(px, py); else ctx.moveTo(px, py);
      });
      for (let k = pts.length - 1; k >= 0; k--) ctx.lineTo(cx + pts[k][1] * maxHalf, y.getPixelForValue(pts[k][0]));
      ctx.closePath();
      ctx.fillStyle = '#ff0000';
      ctx.fill();
      ctx.strokeStyle = '#6a1010';
      ctx.lineWidth = 0.7;
      ctx.stroke();
      ctx.strokeStyle = '#000';
      ctx.lineWidth = 1;
      ctx.beginPath();
      ctx.moveTo(cx, y.getPixelForValue(H_MIN[i]));
      ctx.lineTo(cx, y.getPixelForValue(H_MAX[i]));
      ctx.stroke();
      const t = y.getPixelForValue(H_Q3[i]), b = y.getPixelForValue(H_Q1[i]);
      ctx.fillStyle = '#000';
      ctx.fillRect(cx - 2.6, t, 5.2, b - t);
      ctx.restore();
    });
  },
};
function makeH() {
  return {
    type: 'scatter',
    data: {
      datasets: [
        { data: H_MEDIAN.map((m, i) => ({ x: i + 1, y: m })), pointRadius: 2.6, backgroundColor: '#fff', borderWidth: 0 },
      ],
    },
    options: baseOptions(boxH, areaH, {
      x: axis({ size: xSize(boxH, areaH), min: 0.34, max: 4.68, ticks: [1, 2, 3, 4], labels: (v: number) => H_STAGES[Math.round(v) - 1], font: { size: 11 }, tick: 5, pad: 1.4 }),
      y: axis({ size: ySize(boxH, areaH), min: 2.565, max: 9.565, ticks: H_YTICKS, show: false, tick: 5 }),
    }),
    plugins: [
      violinPlugin,
      framePlugin('#000', 1, 'ltb'),
      rotLabels(boxH, 533, H_YTICKS, '12px', '#000', (v) => String(v)),
      bracketPlugin([{ x1: 1, x2: 2, y: 8.88, l1: 8.62, l2: 8.62 }], '#000', 1.5),
      itemsPlugin('txtH', boxH, [
        { t: 'F value = 4.25', x: 733, y: 280, f: '7.5px', a: 'right', c: '#222' },
        { t: 'Pr(>F) = 0.0063', x: 733, y: 289, f: '7.5px', a: 'right', c: '#222' },
        { t: '*', x: 598, y: 290, f: 'bold 14px', b: 'alphabetic' },
      ]),
    ],
  };
}

const boxI: Box = { x: 508, y: 476, w: 240, h: 218 };
const areaI: Area = { l: 591, t: 505, r: 739, b: 654 };
const errPlugin = {
  id: 'errbars',
  afterDatasetsDraw(chart: any) {
    const { ctx, scales: { x, y } } = chart;
    ctx.save();
    ctx.strokeStyle = '#000';
    ctx.lineWidth = 1.5;
    I_MEANS.forEach((m, i) => {
      const cx = x.getPixelForValue(i + 1);
      const yt = y.getPixelForValue(m + I_SD[i]);
      ctx.beginPath();
      ctx.moveTo(cx, y.getPixelForValue(m));
      ctx.lineTo(cx, yt);
      ctx.moveTo(cx - 8, yt);
      ctx.lineTo(cx + 8, yt);
      ctx.stroke();
    });
    ctx.restore();
  },
};
function makeI() {
  return {
    type: 'bar',
    data: {
      datasets: [
        {
          data: I_MEANS.map((m, i) => ({ x: i + 1, y: m })), backgroundColor: I_COLORS, borderColor: '#000',
          borderWidth: 1.5, barThickness: 29, borderSkipped: 'start',
        },
      ],
    },
    options: baseOptions(boxI, areaI, {
      x: axis({ size: xSize(boxI, areaI), min: 0.333, max: 3.62, ticks: [1, 2, 3], labels: (v: number) => I_CATS[Math.round(v) - 1], font: { size: 12, weight: 'bold' }, tick: 4, pad: 3, lw: 1.5, border: 2 }),
      y: axis({ size: ySize(boxI, areaI), min: 0, max: 0.4, ticks: I_YTICKS, labels: (v: number) => v.toFixed(1), font: { size: 15, weight: 'bold' }, tick: 3, pad: 1, lw: 1.5, border: 2 }),
    }),
    plugins: [
      errPlugin,
      bracketPlugin([
        { x1: 1, x2: 3, y: 0.369, l1: 0.361, l2: 0.361 },
        { x1: 2, x2: 3, y: 0.339, l1: 0.329, l2: 0.329 },
      ], '#000', 1.5),
      itemsPlugin('txtI', boxI, [
        { t: 'PIEZO1 expression level', x: 557, y: 577, f: 'bold 14px', r: -90 },
        { t: 'ns', x: 667, y: 511, f: 'bold 14px' },
        { t: 'ns', x: 689, y: 523, f: 'bold 14px' },
      ]),
    ],
  };
}

/* ===================== COMPONENTS ===================== */
function ChartPanel({ box, make }: { box: Box; make: () => any }) {
  const ref = useRef<HTMLCanvasElement>(null);
  useEffect(() => {
    const c = ref.current;
    if (!c) return;
    const chart = new Chart(c, make());
    return () => chart.destroy();
  }, []);
  return (
    <canvas
      ref={ref}
      width={box.w}
      height={box.h}
      style={{ position: 'absolute', left: box.x, top: box.y, width: box.w, height: box.h }}
    />
  );
}

const PANEL_LETTERS = ['A', 'B', 'C', 'D', 'E', 'H', 'F', 'G', 'I'];
const LETTER_POS = [[5, 8], [303, 7], [562, 8], [5, 238], [277, 238], [528, 262], [5, 483], [278, 483], [537, 483]];

export default function App() {
  return (
    <div style={{ position: 'absolute', left: 0, top: 0, width: 748, height: 694, background: '#fff', overflow: 'hidden' }}>
      <ChartPanel box={boxA} make={makeA} />
      <ChartPanel box={boxB} make={makeB} />
      <ChartPanel box={boxC} make={makeC} />
      <ChartPanel box={boxD} make={makeD} />
      <ChartPanel box={boxE} make={makeE} />
      <ChartPanel box={boxH} make={makeH} />
      <ChartPanel box={boxF} make={makeF} />
      <ChartPanel box={boxG} make={makeG} />
      <ChartPanel box={boxI} make={makeI} />
      {PANEL_LETTERS.map((L, i) => (
        <div
          key={L}
          style={{
            position: 'absolute', left: LETTER_POS[i][0], top: LETTER_POS[i][1], transform: 'translate(-50%, -50%)',
            font: `bold 10px ${FF}`, color: '#000', lineHeight: '12px',
          }}
        >
          {L}
        </div>
      ))}
    </div>
  );
}
